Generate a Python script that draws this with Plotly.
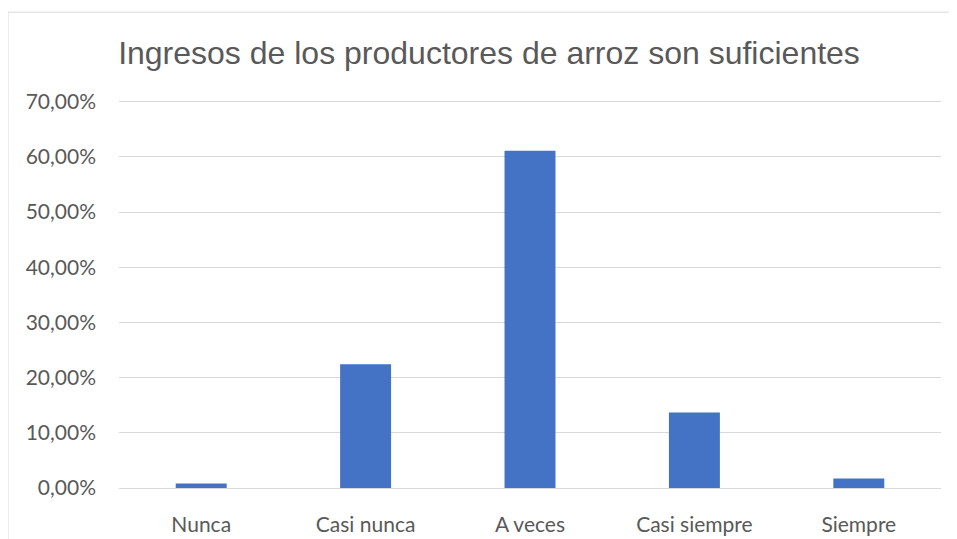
import plotly.graph_objects as go

categories = ["Nunca", "Casi nunca", "A veces", "Casi siempre", "Siempre"]
values = [0.008, 0.224, 0.611, 0.137, 0.017]
title_text = "Ingresos de los productores de arroz son suficientes"
tick_vals = [0, 0.1, 0.2, 0.3, 0.4, 0.5, 0.6, 0.7]

W, H = 957, 539
OFF = 8  # page body margin offset
YMAX = 0.703
# desired plot-area edges in window pixels
left_px, right_px, bottom_px = 119, 941, 488.5
top70_px = 102
top_px = bottom_px - (bottom_px - top70_px) * YMAX / 0.7
ml = left_px - OFF
mt = top_px - OFF
mr = W - (right_px - OFF)
mb = H - (bottom_px - OFF)
pw = W - ml - mr
ph = H - mt - mb

def px_x(p):
    return (p - OFF - ml) / pw

def px_y(p):
    return (H - mb - (p - OFF)) / ph

fig = go.Figure(go.Bar(
    x=categories, y=values, width=0.31,
    marker=dict(color="#4472C4", line=dict(width=0)),
))

fig.update_layout(
    width=W, height=H,
    margin=dict(l=ml, r=mr, t=mt, b=mb, autoexpand=False),
    paper_bgcolor="white", plot_bgcolor="white",
    separators=",.",
    showlegend=False,
    title=dict(text=title_text, x=(489 - OFF) / W, xref="container",
               y=1 - (53 - OFF) / H, yref="container", xanchor="center", yanchor="middle",
               font=dict(family="Liberation Sans, Arial", size=32, color="#595959")),
    font=dict(family="Lato", color="#595959"),
    shapes=[dict(type="rect", xref="paper", yref="paper",
                 x0=px_x(8), x1=px_x(980), y0=px_y(580), y1=px_y(12.5),
                 line=dict(color="#d9d9d9", width=1), fillcolor="rgba(0,0,0,0)", layer="below")],
)
fig.update_yaxes(range=[0, YMAX], tickvals=tick_vals, tickformat=".2%",
                 showgrid=True, gridcolor="#d9d9d9", gridwidth=1,
                 zeroline=False, showline=False, ticks="",
                 ticklabelstandoff=22, automargin=False,
                 tickfont=dict(family="Lato", size=21, color="#595959"))
fig.update_xaxes(showgrid=False, showline=True, linecolor="#d9d9d9", linewidth=1,
                 ticks="", ticklabelstandoff=18, automargin=False,
                 tickfont=dict(family="Lato", size=21, color="#595959"))

fig.write_html("out.html")
